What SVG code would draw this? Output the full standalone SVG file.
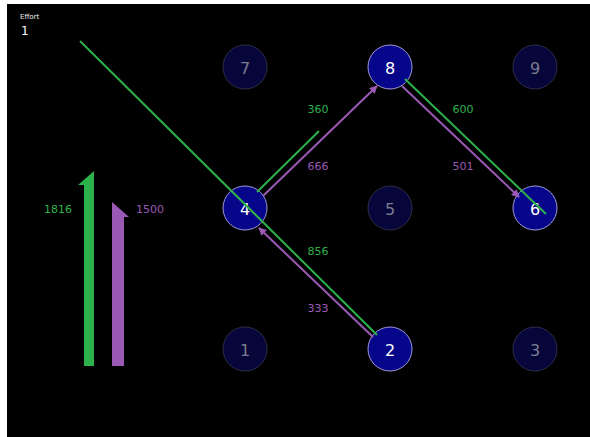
<svg xmlns="http://www.w3.org/2000/svg" width="590" height="437" viewBox="0 0 590 437">
<style>
.bg{fill:#000}
.on circle{fill:#06068a;stroke:#a098d8;stroke-width:1}
.on text{fill:#fff}
.off circle{fill:#06063a;stroke:#2e2e4a;stroke-width:1}
.off text{fill:#7c7c90}
.node text{font-family:"DejaVu Sans",sans-serif;font-size:16px;text-anchor:middle;dominant-baseline:central}
.g{stroke:#2db14a;stroke-width:2;fill:none}
.p{stroke:#9b59b6;stroke-width:2;fill:none}
.lbl{font-family:"DejaVu Sans",sans-serif;font-size:11px;text-anchor:middle}
.lg{fill:#2db14a}
.lp{fill:#9b59b6}
</style>
<defs>
<marker id="ap" viewBox="0 0 10 10" refX="9" refY="5" markerWidth="4" markerHeight="4" orient="auto" markerUnits="strokeWidth">
<path d="M0,0 L10,5 L0,10 z" fill="#9b59b6"/>
</marker>
</defs>
<rect class="bg" x="7" y="4" width="583" height="433"/>
<text x="20" y="19" font-family="DejaVu Sans,sans-serif" font-size="7" fill="#eee">Effort</text>
<text x="21" y="35" font-family="DejaVu Sans,sans-serif" font-size="12" fill="#fff">1</text>
<g id="nodes">
<g id="n7" class="node off"><circle cx="245" cy="67" r="22"/><text x="245" y="68">7</text></g>
<g id="n9" class="node off"><circle cx="535" cy="67" r="22"/><text x="535" y="68">9</text></g>
<g id="n5" class="node off"><circle cx="390" cy="208" r="22"/><text x="390" y="209">5</text></g>
<g id="n1" class="node off"><circle cx="245" cy="349" r="22"/><text x="245" y="350">1</text></g>
<g id="n3" class="node off"><circle cx="535" cy="349" r="22"/><text x="535" y="350">3</text></g>
<g id="n8" class="node on"><circle cx="390" cy="67" r="22"/><text x="390" y="68">8</text></g>
<g id="n4" class="node on"><circle cx="245" cy="208" r="22"/><text x="245" y="209">4</text></g>
<g id="n6" class="node on"><circle cx="535" cy="208" r="22"/><text x="535" y="209">6</text></g>
<g id="n2" class="node on"><circle cx="390" cy="349" r="22"/><text x="390" y="350">2</text></g>
</g>
<g id="connectors">
<line class="p" x1="373" y1="337" x2="259" y2="228" marker-end="url(#ap)"/>
<line class="p" x1="263" y1="196" x2="377" y2="86" marker-end="url(#ap)"/>
<line class="p" x1="402" y1="86" x2="519" y2="197" marker-end="url(#ap)"/>
<line class="g" x1="80" y1="41" x2="377" y2="335"/>
<line class="g" x1="257" y1="192" x2="319" y2="131"/>
<line class="g" x1="405" y1="79" x2="546" y2="214"/>
</g>
<g id="labels">
<text class="lbl lg" x="318" y="113">360</text>
<text class="lbl lp" x="318" y="170">666</text>
<text class="lbl lg" x="463" y="113">600</text>
<text class="lbl lp" x="463" y="170">501</text>
<text class="lbl lg" x="318" y="255">856</text>
<text class="lbl lp" x="318" y="312">333</text>
</g>
<g id="totals">
<polygon points="84,366 84,185 78,185 94,171 94,366" fill="#2db14a"/>
<polygon points="112,366 112,202 129,217 124,217 124,366" fill="#9b59b6"/>
<text class="lbl lg" x="58" y="213">1816</text>
<text class="lbl lp" x="150" y="213">1500</text>
</g>
</svg>
